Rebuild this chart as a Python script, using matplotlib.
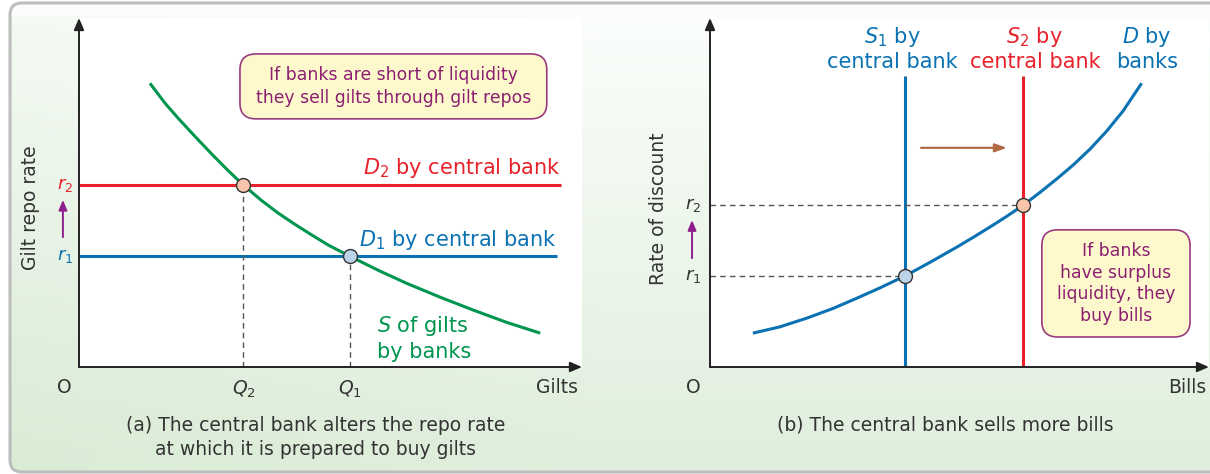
import numpy as np
import matplotlib
matplotlib.use("Agg")
import matplotlib.pyplot as plt
from matplotlib.patches import FancyBboxPatch

plt.rcParams['font.family'] = ['DejaVu Sans']
plt.rcParams['mathtext.fontset'] = 'dejavusans'

# ---- data (a): gilt repo market ----
gilt_x = [14.1, 17.1, 19.7, 23.1, 26.4, 29.7, 32.7, 36.3, 39.6, 42.9, 46.3, 49.6,
          53.9, 59.8, 65.1, 71.8, 78.4, 85.0, 91.7]
gilt_s = [81.3, 75.6, 71.3, 66.0, 61.0, 56.2, 52.1, 47.7, 44.1, 40.9, 37.8, 34.9,
          31.7, 27.5, 24.0, 20.0, 16.3, 12.8, 9.7]
repo_r1 = 31.7
repo_r2 = 52.1
q1 = 53.9
q2 = 32.7
d2_end = 95.8
d1_end = 95.0

# ---- data (b): bills market ----
bills_x = [8.6, 14.0, 19.4, 24.7, 29.4, 34.1, 39.1, 44.1, 49.4, 52.8, 56.1, 59.5,
           62.8, 66.1, 69.5, 72.8, 76.2, 79.5, 82.8, 86.5]
bills_d = [9.7, 11.5, 14.0, 16.8, 19.7, 22.7, 26.1, 30.0, 34.3, 37.2, 40.1, 43.2,
           46.4, 50.0, 53.9, 57.9, 62.5, 67.6, 73.4, 81.3]
s1_x = 39.1
s2_x = 62.8
s_top = 83.4
disc_r1 = 26.1
disc_r2 = 46.4

RED = '#e8212b'
BLUE = '#0a72b3'
GREEN = '#00964f'
PURPLE = '#8c1f70'
AXC = '#222222'
TXT = '#333333'
GREY = '#555555'

W, H = 1210, 474
fig = plt.figure(figsize=(W / 100, H / 100), dpi=100)
fig.patch.set_facecolor('white')

# background: rounded frame filled with a soft green gradient
bg = fig.add_axes([0, 0, 1, 1], zorder=-5)
bg.set_xlim(0, W)
bg.set_ylim(H, 0)
bg.axis('off')
yy, xx = np.mgrid[0:H, 0:W]
t = np.clip((yy - 10) / 440.0, 0, 1) * 0.8 + np.clip(1 - xx / 600.0, 0, 1) * 0.2 * (yy > 15)
c0 = np.array([0.985, 0.995, 0.985])
c1 = np.array([0.855, 0.925, 0.84])
img = c0 + (c1 - c0) * t[..., None]
im = bg.imshow(img, extent=[0, W, H, 0], aspect='auto', interpolation='bilinear')
frame = FancyBboxPatch((10, 3), W + 40, H - 5, boxstyle='round,pad=0,rounding_size=12',
                       facecolor='none', edgecolor='#bdbdbd', linewidth=2.2)
bg.add_patch(frame)
im.set_clip_path(frame)

bottom = (H - 367) / H
height = 349 / H
axa = fig.add_axes([79 / W, bottom, 503 / W, height])
axb = fig.add_axes([710 / W, bottom, 499 / W, height])

for ax in (axa, axb):
    ax.set_xlim(0, 100)
    ax.set_ylim(0, 100)
    ax.set_facecolor('white')
    for s in ax.spines.values():
        s.set_visible(False)
    ax.set_xticks([])
    ax.set_yticks([])
    ax.annotate('', xy=(0, 1), xytext=(0, 0), xycoords='axes fraction',
                arrowprops=dict(arrowstyle='-|>,head_length=0.7,head_width=0.3',
                                color=AXC, lw=1.4, shrinkA=0, shrinkB=0))
    ax.annotate('', xy=(1, 0), xytext=(0, 0), xycoords='axes fraction',
                arrowprops=dict(arrowstyle='-|>,head_length=0.7,head_width=0.3',
                                color=AXC, lw=1.4, shrinkA=0, shrinkB=0))


def note_box(ax, x0, y0, x1, y1, text, fs, ls):
    box = FancyBboxPatch((x0, y0), x1 - x0, y1 - y0,
                         boxstyle='round,pad=0,rounding_size=3.2', mutation_aspect=1.4,
                         fc='#fdf9cd', ec='#9a3a80', lw=1.2, zorder=4)
    ax.add_patch(box)
    ax.text((x0 + x1) / 2, (y0 + y1) / 2, text, color=PURPLE, fontsize=fs,
            ha='center', va='center', linespacing=ls, zorder=5)


# ---------- panel (a) ----------
axa.plot(gilt_x, gilt_s, color=GREEN, lw=2.2, solid_capstyle='butt')
axa.plot([0, d2_end], [repo_r2, repo_r2], color=RED, lw=2.2, solid_capstyle='butt')
axa.plot([0, d1_end], [repo_r1, repo_r1], color=BLUE, lw=2.2, solid_capstyle='butt')
axa.plot([q2, q2], [0, repo_r2], color=GREY, lw=1, dashes=(4, 3))
axa.plot([q1, q1], [0, repo_r1], color=GREY, lw=1, dashes=(4, 3))
axa.plot(q2, repo_r2, 'o', ms=10, mfc='#f8c5ab', mec='#333333', mew=1, zorder=5)
axa.plot(q1, repo_r1, 'o', ms=10, mfc='#bdd3ea', mec='#333333', mew=1, zorder=5)

axa.text(d2_end, 57.0, r'$D_{\mathrm{2}}$ by central bank', color=RED, fontsize=15,
         ha='right', va='center')
axa.text(d1_end, 36.4, r'$D_{\mathrm{1}}$ by central bank', color=BLUE, fontsize=15,
         ha='right', va='center')
axa.text(59.2, 8.2, '$S$ of gilts\nby banks', color=GREEN, fontsize=15,
         ha='left', va='center', linespacing=1.25)
note_box(axa, 32.0, 71.1, 93.0, 89.7,
         'If banks are short of liquidity\nthey sell gilts through gilt repos', 12.4, 1.3)

axa.text(-2.8, repo_r2, r'$r_{\mathrm{2}}$', color=RED, fontsize=13, ha='center', va='center',
         clip_on=False)
axa.text(-2.8, repo_r1, r'$r_{\mathrm{1}}$', color=BLUE, fontsize=13, ha='center', va='center',
         clip_on=False)
axa.annotate('', xy=(-3.2, 47.9), xytext=(-3.2, 37.2), annotation_clip=False,
             arrowprops=dict(arrowstyle='-|>,head_length=0.6,head_width=0.25',
                             color='#8e1f8e', lw=1.4, shrinkA=0, shrinkB=0))
axa.text(-9.7, 45.6, 'Gilt repo rate', color=TXT, fontsize=13.5, rotation=90,
         ha='center', va='center', clip_on=False)
axa.text(-3.0, -6.0, 'O', color=TXT, fontsize=13.5, ha='center', va='center', clip_on=False)
axa.text(q2, -6.5, r'$Q_{\mathrm{2}}$', color=TXT, fontsize=13.5, ha='center', va='center',
         clip_on=False)
axa.text(q1, -6.5, r'$Q_{\mathrm{1}}$', color=TXT, fontsize=13.5, ha='center', va='center',
         clip_on=False)
axa.text(95.0, -6.0, 'Gilts', color=TXT, fontsize=13.5, ha='center', va='center', clip_on=False)
axa.text(47.1, -20.2, '(a) The central bank alters the repo rate\nat which it is prepared to buy gilts',
         color=TXT, fontsize=13.5, ha='center', va='center', linespacing=1.3, clip_on=False)

# ---------- panel (b) ----------
axb.plot(bills_x, bills_d, color=BLUE, lw=2.2, solid_capstyle='butt')
axb.plot([s1_x, s1_x], [0, s_top], color=BLUE, lw=2.2, solid_capstyle='butt')
axb.plot([s2_x, s2_x], [0, s_top], color=RED, lw=2.2, solid_capstyle='butt')
axb.plot([0, s2_x], [disc_r2, disc_r2], color=GREY, lw=1, dashes=(4, 3))
axb.plot([0, s1_x], [disc_r1, disc_r1], color=GREY, lw=1, dashes=(4, 3))
axb.plot(s2_x, disc_r2, 'o', ms=10, mfc='#f8c5ab', mec='#333333', mew=1, zorder=5)
axb.plot(s1_x, disc_r1, 'o', ms=10, mfc='#bdd3ea', mec='#333333', mew=1, zorder=5)
axb.annotate('', xy=(59.5, 62.8), xytext=(42.3, 62.8),
             arrowprops=dict(arrowstyle='-|>,head_length=0.7,head_width=0.25',
                             color='#b06a45', lw=1.6, shrinkA=0, shrinkB=0))

axb.text(36.5, 91.3, '$S_{\\mathrm{1}}$ by\ncentral bank', color=BLUE, fontsize=15,
         ha='center', va='center', linespacing=1.2, clip_on=False)
axb.text(65.1, 91.3, '$S_{\\mathrm{2}}$ by\ncentral bank', color=RED, fontsize=15,
         ha='center', va='center', linespacing=1.2, clip_on=False)
axb.text(87.6, 91.3, '$D$ by\nbanks', color=BLUE, fontsize=15,
         ha='center', va='center', linespacing=1.2, clip_on=False)
note_box(axb, 66.5, 8.6, 96.2, 39.3, 'If banks\nhave surplus\nliquidity, they\nbuy bills', 12.4, 1.25)

axb.text(-3.4, disc_r2, r'$r_{\mathrm{2}}$', color=TXT, fontsize=13, ha='center', va='center',
         clip_on=False)
axb.text(-3.4, disc_r1, r'$r_{\mathrm{1}}$', color=TXT, fontsize=13, ha='center', va='center',
         clip_on=False)
axb.annotate('', xy=(-3.6, 42.1), xytext=(-3.6, 31.2), annotation_clip=False,
             arrowprops=dict(arrowstyle='-|>,head_length=0.6,head_width=0.25',
                             color='#8e1f8e', lw=1.4, shrinkA=0, shrinkB=0))
axb.text(-10.4, 45.3, 'Rate of discount', color=TXT, fontsize=13.5, rotation=90,
         ha='center', va='center', clip_on=False)
axb.text(-3.4, -6.0, 'O', color=TXT, fontsize=13.5, ha='center', va='center', clip_on=False)
axb.text(99.4, -6.0, 'Bills', color=TXT, fontsize=13.5, ha='right', va='center', clip_on=False)
axb.text(47.1, -16.6, '(b) The central bank sells more bills', color=TXT, fontsize=13.5,
         ha='center', va='center', clip_on=False)

fig.savefig('out.png', dpi=100)
